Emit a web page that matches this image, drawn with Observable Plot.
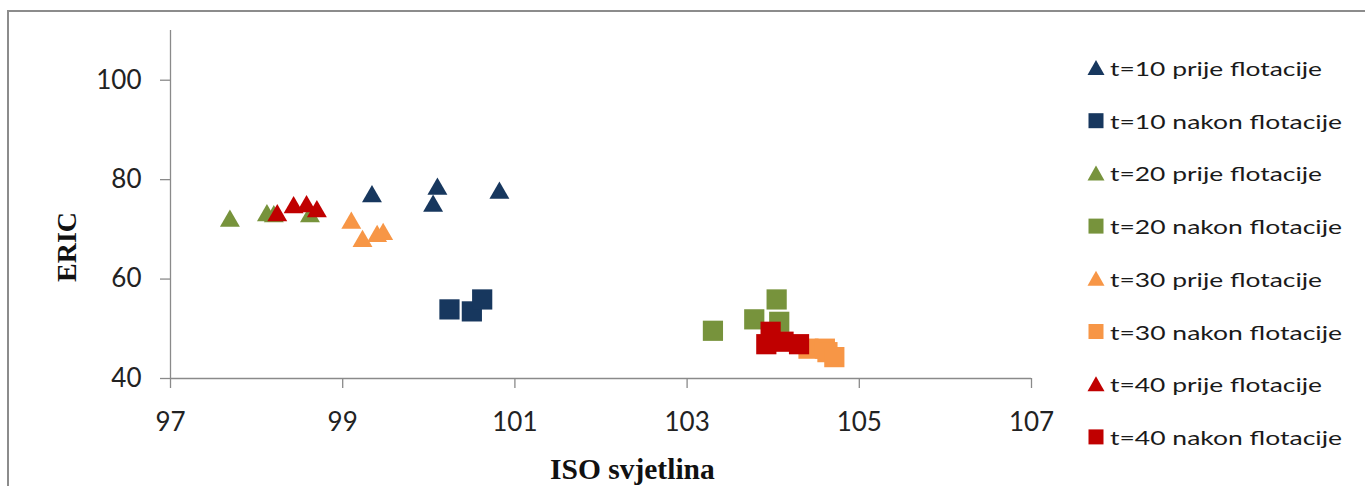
<!DOCTYPE html>
<html>
<head>
<meta charset="utf-8">
<script src="https://cdn.jsdelivr.net/npm/d3@7"></script>
<script src="https://cdn.jsdelivr.net/npm/@observablehq/plot@0.6"></script>
<style>
  html, body { margin: 0; padding: 0; background: #fff; }
  #wrap { position: relative; width: 1365px; height: 486px; overflow: hidden; background: #fff; }
  #border { position: absolute; left: 7px; top: 10px; width: 1400px; height: 500px;
            border-left: 2px solid #8c8c8c; border-top: 2px solid #8c8c8c; }
  #chart { position: absolute; left: 0; top: 0; }
  .title { position: absolute; font-family: "Liberation Serif", "Times New Roman", serif;
           font-weight: bold; color: #111; white-space: nowrap; }
  #legend { position: absolute; left: 0; top: 0; }
</style>
</head>
<body>
<div id="wrap">
  <div id="border"></div>
  <div id="chart"></div>
  <div class="title" id="xtitle" style="left:550px; top:451px; font-size:29.5px; line-height:36px;">ISO svjetlina</div>
  <div class="title" id="ytitle" style="left:67px; top:247px; font-size:28px; line-height:32px; transform: translate(-50%,-50%) rotate(-90deg);">ERIC</div>
  <svg id="legend" width="1365" height="486"></svg>
</div>
<script>
// Series
const seriesNames = [
  "t=10 prije flotacije", "t=10 nakon flotacije",
  "t=20 prije flotacije", "t=20 nakon flotacije",
  "t=30 prije flotacije", "t=30 nakon flotacije",
  "t=40 prije flotacije", "t=40 nakon flotacije"
];
const seriesColors = ["#17375E", "#17375E", "#77933C", "#77933C", "#F79646", "#F79646", "#C00000", "#C00000"];
const seriesShapes = ["triangle", "square", "triangle", "square", "triangle", "square", "triangle", "square"];

// Values (ISO svjetlina, ERIC)
const t10_prije_x = [99.34, 100.10, 100.05, 100.82];
const t10_prije_y = [76.6, 78.1, 74.7, 77.3];
const t10_nakon_x = [100.24, 100.50, 100.62];
const t10_nakon_y = [53.9, 53.5, 55.9];
const t20_prije_x = [97.69, 98.12, 98.20, 98.62];
const t20_prije_y = [71.7, 72.8, 72.6, 72.6];
const t20_nakon_x = [103.30, 104.04, 103.78, 104.07];
const t20_nakon_y = [49.6, 55.9, 51.9, 51.4];
const t30_prije_x = [99.10, 99.23, 99.40, 99.47];
const t30_prije_y = [71.3, 67.6, 68.6, 69.0];
const t30_nakon_x = [104.41, 104.60, 104.63, 104.71];
const t30_nakon_y = [46.0, 46.0, 45.3, 44.3];
const t40_prije_x = [98.24, 98.43, 98.58, 98.70];
const t40_prije_y = [72.8, 74.4, 74.6, 73.6];
const t40_nakon_x = [103.97, 103.92, 104.12, 104.30];
const t40_nakon_y = [49.4, 46.9, 47.4, 46.9];

const xTicks = [97, 99, 101, 103, 105, 107];
const yTicks = [40, 60, 80, 100];

const seriesX = [t10_prije_x, t10_nakon_x, t20_prije_x, t20_nakon_x, t30_prije_x, t30_nakon_x, t40_prije_x, t40_nakon_x];
const seriesY = [t10_prije_y, t10_nakon_y, t20_prije_y, t20_nakon_y, t30_prije_y, t30_nakon_y, t40_prije_y, t40_nakon_y];

const rows = [];
seriesNames.forEach((name, i) => {
  seriesX[i].forEach((x, j) => rows.push({series: name, shape: seriesShapes[i], x, y: seriesY[i][j]}));
});

const axisGray = "#8a8a8a";
const tickFont = "Lato, 'Open Sans', sans-serif";

const chart = Plot.plot({
  width: 1365,
  height: 486,
  marginLeft: 170,
  marginRight: 334,
  marginTop: 30,
  marginBottom: 108,
  style: { background: "transparent", fontFamily: tickFont, fontSize: "26px", color: "#222", overflow: "visible" },
  x: { domain: [97, 107], ticks: xTicks },
  y: { domain: [40, 110], ticks: yTicks },
  color: { domain: seriesNames, range: seriesColors },
  marks: [
    Plot.ruleX([97], { stroke: axisGray, strokeWidth: 1.3 }),
    Plot.ruleY([40], { stroke: axisGray, strokeWidth: 1.3 }),
    Plot.axisX({ ticks: xTicks, tickSize: 10, tickPadding: 24, stroke: axisGray, strokeWidth: 1.3, label: null, fill: "#222", tickFormat: d => String(d) }),
    Plot.axisY({ ticks: yTicks, tickSize: 10, tickPadding: 19, stroke: axisGray, strokeWidth: 1.3, label: null, fill: "#222", tickFormat: d => String(d) }),
    Plot.dot(rows.filter(d => d.shape === "triangle"), { x: "x", y: "y", fill: "series", symbol: "triangle", r: 7.4 }),
    Plot.dot(rows.filter(d => d.shape === "square"), { x: "x", y: "y", fill: "series", symbol: "square", r: 11.4 })
  ]
});
document.getElementById("chart").appendChild(chart);

// Legend
const legend = d3.select("#legend");
const lx = 1096, ly0 = 68, lstep = 52.7;
seriesNames.forEach((name, i) => {
  const cy = ly0 + i * lstep;
  const g = legend.append("g").attr("transform", `translate(${lx},${cy})`);
  if (seriesShapes[i] === "triangle") {
    g.append("path").attr("d", "M0,-8 L8.5,7 L-8.5,7 Z").attr("fill", seriesColors[i]);
  } else {
    g.append("rect").attr("x", -7.5).attr("y", -7.5).attr("width", 15).attr("height", 15).attr("fill", seriesColors[i]);
  }
  const isNakon = name.includes("nakon");
  legend.append("text")
    .attr("x", 1110).attr("y", cy + 8)
    .attr("font-family", tickFont)
    .attr("font-size", 20)
    .attr("fill", "#1a1a1a")
    .attr("textLength", isNakon ? 232 : 212)
    .attr("lengthAdjust", "spacingAndGlyphs")
    .text(name);
});
</script>
</body>
</html>
